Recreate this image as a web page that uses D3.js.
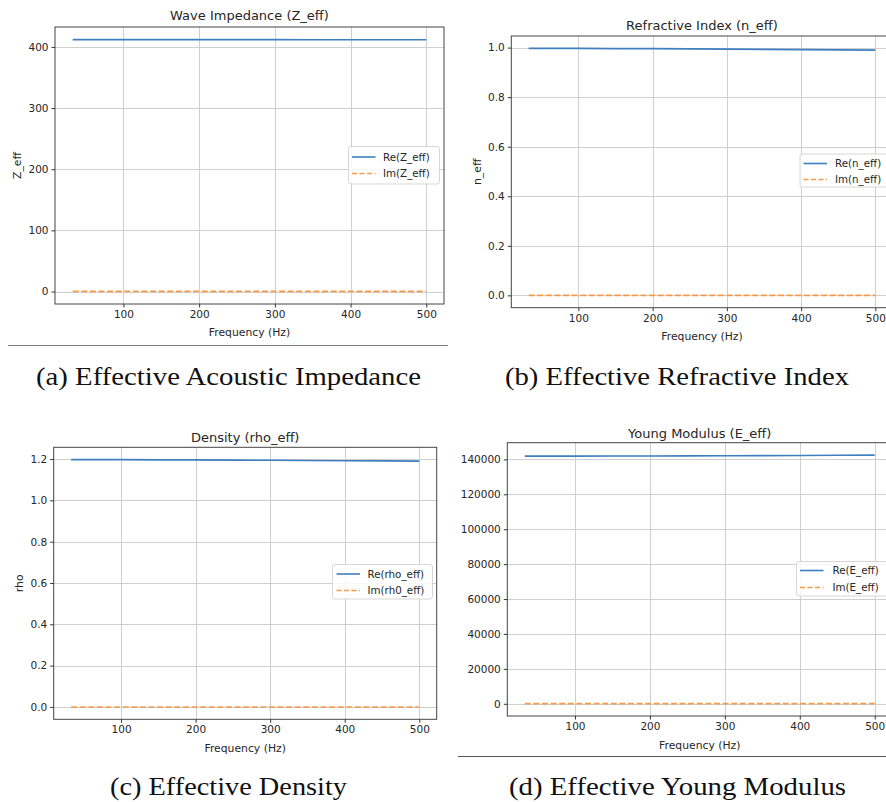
<!DOCTYPE html>
<html>
<head>
<meta charset="utf-8">
<script src="https://cdn.jsdelivr.net/npm/d3@7/dist/d3.min.js"></script>
<style>
  body { margin: 0; background: #fff; }
  svg { display: block; }
  .tick-label, .axis-label, .legend-text { font-family: "DejaVu Sans", sans-serif; fill: #262626; }
  .panel-title { font-family: "DejaVu Sans", sans-serif; fill: #262626; }
  .caption { font-family: "Liberation Serif", "DejaVu Serif", serif; fill: #111; }
</style>
</head>
<body>
<svg id="fig" width="886" height="802"></svg>
<script>
// Frequency sweep (Hz)
const freq = [33, 50, 100, 150, 200, 250, 300, 350, 400, 450, 500];

// Effective acoustic impedance
const zRe = [412.0, 412.0, 412.0, 412.0, 411.9, 411.9, 411.9, 411.8, 411.8, 411.7, 411.7];
const zIm = [0.2, 0.2, 0.2, 0.2, 0.2, 0.2, 0.2, 0.2, 0.2, 0.2, 0.2];

// Effective refractive index
const nRe = [0.997, 0.997, 0.997, 0.996, 0.996, 0.995, 0.994, 0.993, 0.992, 0.991, 0.990];
const nIm = [0.0, 0.0, 0.0, 0.0, 0.0, 0.0, 0.0, 0.0, 0.0, 0.0, 0.0];

// Effective density
const rhoRe = [1.197, 1.197, 1.197, 1.196, 1.196, 1.195, 1.194, 1.193, 1.192, 1.191, 1.190];
const rhoIm = [0.0, 0.0, 0.0, 0.0, 0.0, 0.0, 0.0, 0.0, 0.0, 0.0, 0.0];

// Effective Young modulus
const eRe = [141850, 141850, 141880, 141920, 141960, 142010, 142070, 142150, 142240, 142340, 142450];
const eIm = [120, 120, 120, 120, 120, 120, 120, 120, 120, 120, 120];

// Tick values
const xTicks = [100, 200, 300, 400, 500];
const zTicks = [0, 100, 200, 300, 400];
const nTicks = [0.0, 0.2, 0.4, 0.6, 0.8, 1.0];
const rhoTicks = [0.0, 0.2, 0.4, 0.6, 0.8, 1.0, 1.2];
const eTicks = [0, 20000, 40000, 60000, 80000, 100000, 120000, 140000];

// Titles, labels, legends, captions
const titles = ["Wave Impedance (Z_eff)", "Refractive Index (n_eff)", "Density (rho_eff)", "Young Modulus (E_eff)"];
const yLabels = ["Z_eff", "n_eff", "rho", ""];
const legendRe = ["Re(Z_eff)", "Re(n_eff)", "Re(rho_eff)", "Re(E_eff)"];
const legendIm = ["Im(Z_eff)", "Im(n_eff)", "Im(rh0_eff)", "Im(E_eff)"];
const captions = ["(a) Effective Acoustic Impedance", "(b) Effective Refractive Index", "(c) Effective Density", "(d) Effective Young Modulus"];

const BLUE = "#3f7fbf";
const ORANGE = "#f79a4a";

const svg = d3.select("#fig");

// Padded extent, like matplotlib's default 5% autoscale margin
function padded(values) {
  const [lo, hi] = d3.extent(values);
  const m = (hi - lo) * 0.05;
  return [lo - m, hi + m];
}

const panels = [
  { box: { l: 55, t: 27, r: 444, b: 304 }, re: zRe, im: zIm, yt: zTicks, fmt: d3.format("d"),
    titleY: 20, yLabelX: 17, xLabelY: 335.5,
    legend: { x: 348.5, y: 146.5, w: 91, h: 37.5, lineX: 352, textX: 383, r1: 157, r2: 173.5 },
    caption: { x: 228.5, y: 384.5, w: 385 } },
  { box: { l: 511.3, t: 36, r: 892.7, b: 307.7 }, re: nRe, im: nIm, yt: nTicks, fmt: d3.format(".1f"),
    titleY: 29.5, yLabelX: 477, xLabelY: 339.5,
    legend: { x: 800, y: 154, w: 90, h: 33, lineX: 803.5, textX: 835, r1: 163.5, r2: 179.5 },
    caption: { x: 677, y: 384.5, w: 344 } },
  { box: { l: 53.7, t: 447.3, r: 436.7, b: 719.3 }, re: rhoRe, im: rhoIm, yt: rhoTicks, fmt: d3.format(".1f"),
    titleY: 441.5, yLabelX: 19, xLabelY: 751.5,
    legend: { x: 332.5, y: 564.5, w: 100, h: 34.5, lineX: 336.5, textX: 367.5, r1: 574, r2: 590.5 },
    caption: { x: 228.5, y: 795, w: 237 } },
  { box: { l: 507.3, t: 442.7, r: 892.2, b: 716 }, re: eRe, im: eIm, yt: eTicks, fmt: d3.format("d"),
    titleY: 437.5, yLabelX: 470, xLabelY: 748.5,
    legend: { x: 796.5, y: 561.5, w: 95, h: 34.5, lineX: 800, textX: 832.5, r1: 570.5, r2: 587.5 },
    caption: { x: 677.5, y: 795, w: 337 } }
];

panels.forEach((p, i) => {
  const { l, t, r, b } = p.box;
  const x = d3.scaleLinear().domain(padded(freq)).range([l, r]);
  const y = d3.scaleLinear().domain(padded(p.re.concat(p.im))).range([b, t]);
  const g = svg.append("g");

  // plot background
  g.append("rect").attr("x", l).attr("y", t).attr("width", r - l).attr("height", b - t).attr("fill", "#fff");

  // grid
  const grid = g.append("g").attr("stroke", "#cfcfcf").attr("stroke-width", 1);
  grid.selectAll(".gx").data(xTicks).join("line")
    .attr("x1", d => Math.round(x(d)) + 0.5).attr("x2", d => Math.round(x(d)) + 0.5)
    .attr("y1", t).attr("y2", b);
  grid.selectAll(".gy").data(p.yt).join("line")
    .attr("y1", d => Math.round(y(d)) + 0.5).attr("y2", d => Math.round(y(d)) + 0.5)
    .attr("x1", l).attr("x2", r);

  // axes via d3-axis
  const xAxis = d3.axisBottom(x).tickValues(xTicks).tickSize(3.5).tickPadding(3).tickFormat(d3.format("d"));
  const yAxis = d3.axisLeft(y).tickValues(p.yt).tickSize(3.5).tickPadding(3).tickFormat(p.fmt);
  const gx = g.append("g").attr("transform", `translate(0,${b})`).call(xAxis);
  const gy = g.append("g").attr("transform", `translate(${l},0)`).call(yAxis);
  [gx, gy].forEach(ax => {
    ax.select(".domain").remove();
    ax.selectAll(".tick line").attr("stroke", "#333");
    ax.selectAll(".tick text").attr("class", "tick-label").attr("font-size", 10.5)
      .attr("font-family", "DejaVu Sans, sans-serif").attr("fill", "#2a2a2a");
  });

  // series
  const line = vals => d3.line().x((d, k) => x(freq[k])).y(d => y(d))(vals);
  g.append("path").attr("d", line(p.re)).attr("fill", "none").attr("stroke", BLUE).attr("stroke-width", 1.6);
  g.append("path").attr("d", line(p.im)).attr("fill", "none").attr("stroke", ORANGE).attr("stroke-width", 1.6)
    .attr("stroke-dasharray", "6,2.6");

  // frame
  g.append("rect").attr("x", l).attr("y", t).attr("width", r - l).attr("height", b - t)
    .attr("fill", "none").attr("stroke", "#444").attr("stroke-width", 1);

  // title & labels
  g.append("text").attr("class", "panel-title").attr("x", (l + r) / 2).attr("y", p.titleY)
    .attr("text-anchor", "middle").attr("font-size", 13).text(titles[i]);
  g.append("text").attr("class", "axis-label").attr("x", (l + r) / 2).attr("y", p.xLabelY)
    .attr("text-anchor", "middle").attr("font-size", 10.8).text("Frequency (Hz)");
  if (yLabels[i]) {
    g.append("text").attr("class", "axis-label")
      .attr("transform", `translate(${p.yLabelX},${(t + b) / 2}) rotate(-90)`)
      .attr("text-anchor", "middle").attr("dy", "0.35em").attr("font-size", 10.8).text(yLabels[i]);
  }

  // legend
  const L = p.legend;
  const lg = g.append("g");
  lg.append("rect").attr("x", L.x).attr("y", L.y).attr("width", L.w).attr("height", L.h)
    .attr("rx", 2.5).attr("fill", "rgba(255,255,255,0.85)").attr("stroke", "#d6d6d6").attr("stroke-width", 1);
  lg.append("line").attr("x1", L.lineX).attr("x2", L.lineX + 23.5).attr("y1", L.r1).attr("y2", L.r1)
    .attr("stroke", BLUE).attr("stroke-width", 1.6);
  lg.append("line").attr("x1", L.lineX).attr("x2", L.lineX + 23.5).attr("y1", L.r2).attr("y2", L.r2)
    .attr("stroke", ORANGE).attr("stroke-width", 1.6).attr("stroke-dasharray", "5,2.5");
  lg.append("text").attr("class", "legend-text").attr("x", L.textX).attr("y", L.r1).attr("dy", "0.35em")
    .attr("font-size", 10.3).text(legendRe[i]);
  lg.append("text").attr("class", "legend-text").attr("x", L.textX).attr("y", L.r2).attr("dy", "0.35em")
    .attr("font-size", 10.3).text(legendIm[i]);

  // caption
  svg.append("text").attr("class", "caption").attr("x", p.caption.x).attr("y", p.caption.y)
    .attr("text-anchor", "middle").attr("font-size", 26)
    .attr("textLength", p.caption.w).attr("lengthAdjust", "spacingAndGlyphs")
    .text(captions[i]);
});

// separator rules
svg.append("line").attr("x1", 8).attr("x2", 448).attr("y1", 345.5).attr("y2", 345.5)
  .attr("stroke", "#7a7a7a").attr("stroke-width", 1);
svg.append("line").attr("x1", 458).attr("x2", 886).attr("y1", 756.5).attr("y2", 756.5)
  .attr("stroke", "#555").attr("stroke-width", 1);
</script>
</body>
</html>
